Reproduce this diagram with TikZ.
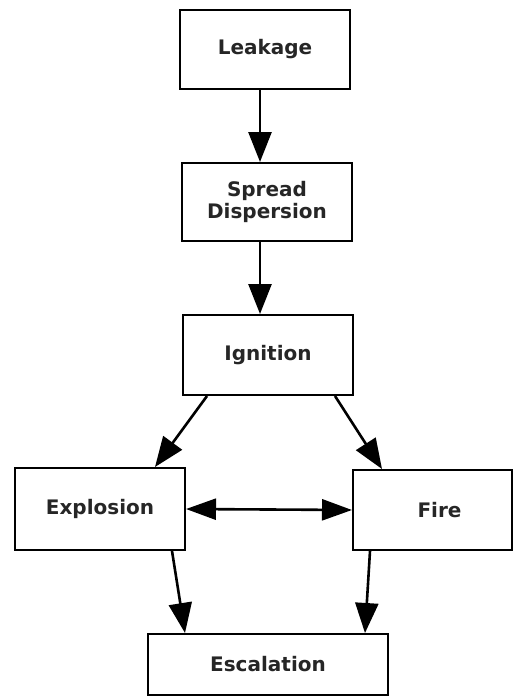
\documentclass[tikz,border=0pt]{standalone}
\usepackage{fontspec}
\setmainfont{DejaVu Sans}
\usetikzlibrary{arrows.meta,calc}
\begin{document}
\begin{tikzpicture}[x=1pt,y=-1pt,
  box/.style={draw=black,line width=2pt,rectangle,inner sep=0pt,align=center,
    font=\fontsize{20}{24}\selectfont\bfseries,text=black!85},
  arr/.style={line width=2.6pt,-{Triangle[length=30pt,width=23pt]}},
  darr/.style={line width=2.6pt,{Triangle[length=30pt,width=21pt]}-{Triangle[length=30pt,width=21pt]}}]
\useasboundingbox (0,0) rectangle (515,698);
\node[box,minimum width=170pt,minimum height=79pt] (leak) at (265,49.5) {Leakage};
\node[box,minimum width=170pt,minimum height=78pt] (spread) at (267,202) {Spread\\[-2pt]Dispersion};
\node[box,minimum width=170pt,minimum height=80pt] (ign) at (268,355) {Ignition};
\node[box,minimum width=170pt,minimum height=82pt] (expl) at (100,509) {Explosion};
\node[box,minimum width=159pt,minimum height=80pt] (fire) at (432.5,510) {\hspace*{14pt}Fire};
\node[box,minimum width=240pt,minimum height=61pt] (esc) at (268,664.5) {Escalation};
\draw[arr] ([xshift=-5pt]leak.south) -- ([xshift=-7pt]spread.north);
\draw[arr] ([xshift=-7pt]spread.south) -- ([xshift=-8pt]ign.north);
\draw[arr] ([xshift=-61pt]ign.south) -- ([xshift=55pt]expl.north);
\draw[arr] ([xshift=67pt]ign.south) -- ([xshift=-50.5pt]fire.north);
\draw[darr] (expl.east) -- (fire.west);
\draw[arr] ([xshift=72pt]expl.south) -- ([xshift=-83pt]esc.north);
\draw[arr] ([xshift=-62.5pt]fire.south) -- ([xshift=97pt]esc.north);
\end{tikzpicture}
\end{document}
